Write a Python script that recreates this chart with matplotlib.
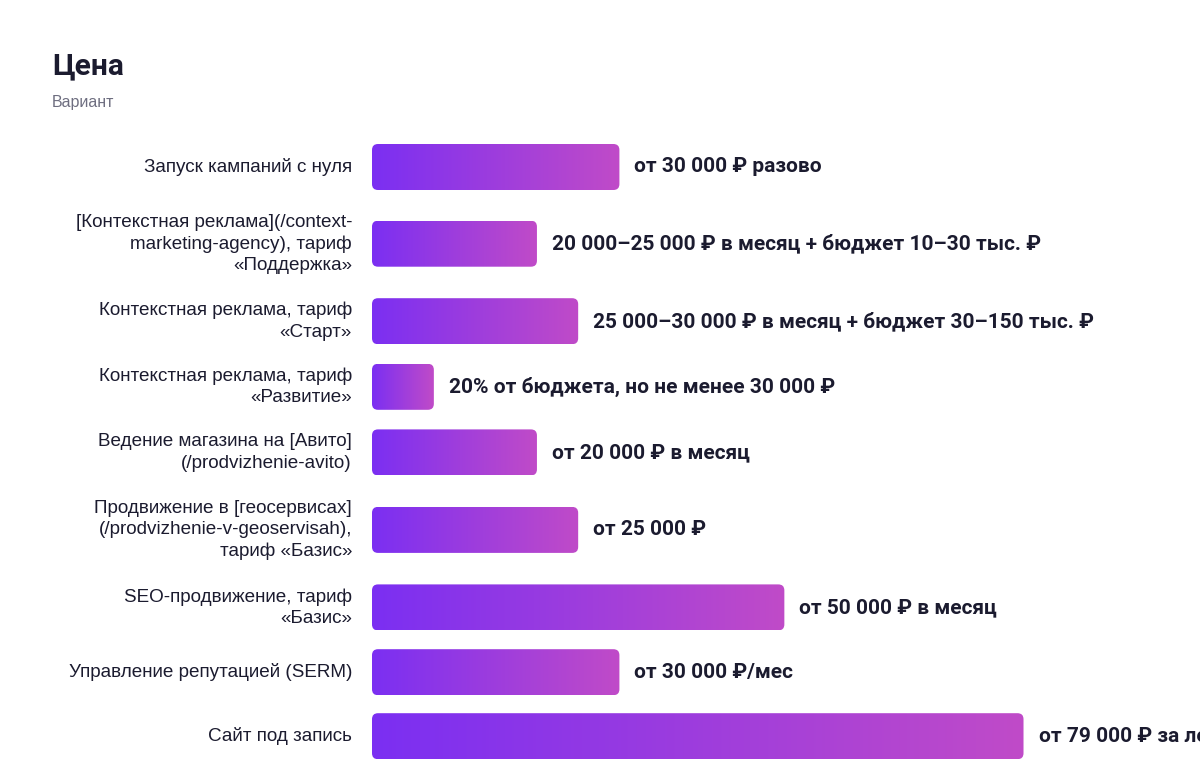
import numpy as np
import matplotlib
matplotlib.use("Agg")
import matplotlib.pyplot as plt
from matplotlib.patches import FancyBboxPatch
from matplotlib.colors import LinearSegmentedColormap

labels = [
    "Запуск кампаний с нуля",
    "[Контекстная реклама](/context-\nmarketing-agency), тариф\n«Поддержка»",
    "Контекстная реклама, тариф\n«Старт»",
    "Контекстная реклама, тариф\n«Развитие»",
    "Ведение магазина на [Авито]\n(/prodvizhenie-avito)",
    "Продвижение в [геосервисах]\n(/prodvizhenie-v-geoservisah),\nтариф «Базис»",
    "SEO-продвижение, тариф\n«Базис»",
    "Управление репутацией (SERM)",
    "Сайт под запись",
]
values = [30000, 20000, 25000, 7500, 20000, 25000, 50000, 30000, 79000]
value_texts = [
    "от 30 000 ₽ разово",
    "20 000–25 000 ₽ в месяц + бюджет 10–30 тыс. ₽",
    "25 000–30 000 ₽ в месяц + бюджет 30–150 тыс. ₽",
    "20% от бюджета, но не менее 30 000 ₽",
    "от 20 000 ₽ в месяц",
    "от 25 000 ₽",
    "от 50 000 ₽ в месяц",
    "от 30 000 ₽/мес",
    "от 79 000 ₽ за лендинг",
]

W, H = 1200, 776
fig = plt.figure(figsize=(W / 100, H / 100), dpi=100)
fig.patch.set_facecolor("white")

ax_left = 372
ax = fig.add_axes([ax_left / W, 0, (W - ax_left) / W, 1])
xmax = 100400
ax.set_xlim(0, xmax)
ax.set_ylim(H, 0)
ax.axis("off")

units_per_px = xmax / (W - ax_left)
cmap = LinearSegmentedColormap.from_list("grad", ["#7b2ff2", "#c04bc8"])
grad = np.linspace(0, 1, 256).reshape(1, -1)

# row layout: row height grows with the number of label lines
bar_h = 46
line_h = 23.8
gap = 18
top = 144
for lab, v, vt in zip(labels, values, value_texts):
    n = lab.count("\n") + 1
    row_h = max(bar_h, n * line_h)
    yc = top + row_h / 2
    y0 = yc - bar_h / 2
    patch = FancyBboxPatch((0, y0), v, bar_h,
                           boxstyle="round,pad=0,rounding_size=%f" % (6 * units_per_px),
                           mutation_aspect=1 / units_per_px,
                           facecolor="none", edgecolor="none")
    ax.add_patch(patch)
    im = ax.imshow(grad, cmap=cmap, aspect="auto",
                   extent=[0, v, y0 + bar_h, y0], interpolation="bilinear")
    im.set_clip_path(patch)
    ax.text(v + 15 * units_per_px, yc, vt, ha="left", va="center",
            fontsize=15, fontweight="bold", color="#1b1b2f",
            family=["Roboto", "DejaVu Sans"], clip_on=False)
    fig.text(352 / W, 1 - yc / H, lab, ha="right", va="center",
             fontsize=13.6, color="#1b1b2f", linespacing=1.33,
             family=["Liberation Sans", "DejaVu Sans"])
    top += row_h + gap

ax.set_xlim(0, xmax)
ax.set_ylim(H, 0)

fig.text(52 / W, 1 - 66 / H, "Цена", ha="left", va="center",
         fontsize=21.5, fontweight="bold", color="#1b1b2f",
         family=["Roboto", "DejaVu Sans"])
fig.text(52 / W, 1 - 102 / H, "Вариант", ha="left", va="center",
         fontsize=11.5, color="#6e6e80",
         family=["Liberation Sans", "DejaVu Sans"])

fig.savefig("out.png", dpi=100)
